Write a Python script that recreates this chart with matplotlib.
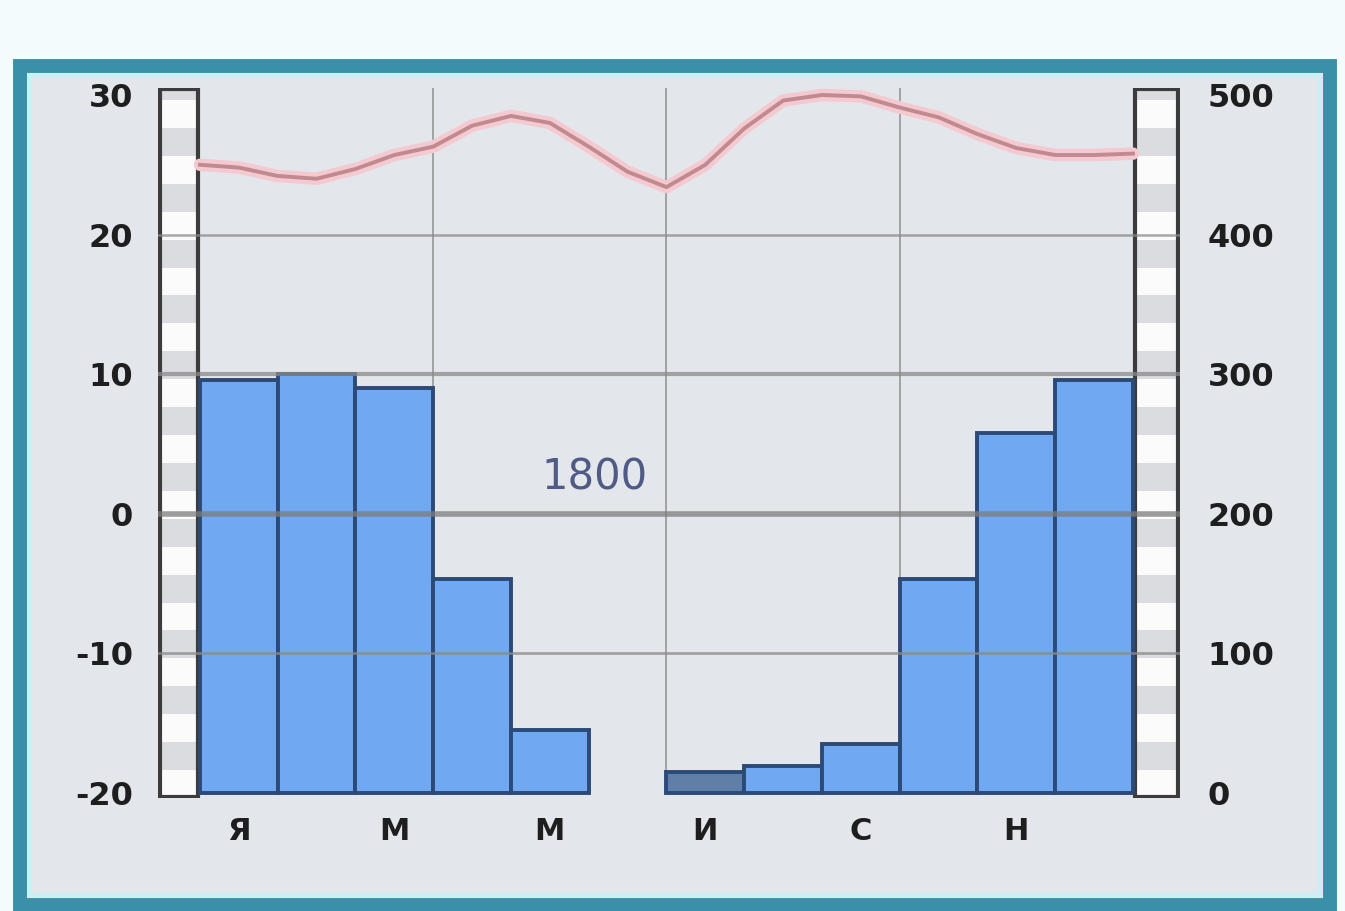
import numpy as np
import matplotlib.pyplot as plt
from matplotlib.patches import Rectangle

# precipitation per month, mm (right axis)
precip = [296, 300, 290, 153, 45, 0, 15, 19, 35, 153, 258, 296]
# temperature read every half month from start of Jan to end of Dec, deg C (left axis)
temp = [25.0, 24.8, 24.2, 24.0, 24.7, 25.7, 26.3, 27.8, 28.5, 28.0, 26.3, 24.5,
        23.4, 25.0, 27.6, 29.6, 30.0, 29.9, 29.1, 28.4, 27.2, 26.2, 25.7, 25.7, 25.8]
month_labels = ['Я', 'М', 'М', 'И', 'С', 'Н']
temp_ticks = [-20, -10, 0, 10, 20, 30]
precip_ticks = [0, 100, 200, 300, 400, 500]
total = '1800'

W, H = 1345, 911
fig = plt.figure(figsize=(W / 100, H / 100), dpi=100)
fig.patch.set_facecolor('#f3fbfc')

# teal frame with grey inside
fig.patches.append(Rectangle((20 / W, 6 / H), 1310 / W, 839 / H, transform=fig.transFigure,
                             facecolor='#e3e6ea', edgecolor='#3a90a9', linewidth=10, zorder=-2))
fig.patches.append(Rectangle((30 / W, 16 / H), 1290 / W, 819 / H, transform=fig.transFigure,
                             facecolor='none', edgecolor='#c8f0f6', linewidth=3, zorder=-1))

ax = fig.add_axes([158 / W, (H - 798) / H, 1022 / W, 710 / H])
ax.set_facecolor('none')
ax.set_xlim(-0.54, 12.605)
ax.set_ylim(-20.36, 30.5)
for s in ax.spines.values():
    s.set_visible(False)

ax2 = ax.twinx()
ax2.set_ylim((-20.36 + 20) * 10, (30.5 + 20) * 10)
for s in ax2.spines.values():
    s.set_visible(False)

# side scale strips
for x0, w in [(-0.54, 0.54), (12.0, 0.605)]:
    for i, y in enumerate(np.arange(-20.36, 30.5, 2.0)):
        ax.add_patch(Rectangle((x0, y), w, min(2.0, 30.5 - y),
                               facecolor='#fbfbfb' if i % 2 == 0 else '#dadcdf',
                               edgecolor='none', zorder=1))
    ax.add_patch(Rectangle((x0 + 0.02, -20.3), w - 0.04, 50.75, facecolor='none',
                           edgecolor='#3c3c3c', linewidth=3, zorder=3))

# vertical season lines
for xv in [3, 6, 9]:
    ax.plot([xv, xv], [-20, 30.5], color='#8f8f8f', linewidth=1.1, zorder=2)

# temperature curve
xt = np.arange(0, 12.5, 0.5)
ax.plot(xt, temp, color='#f4c9cf', linewidth=9, solid_capstyle='round',
        solid_joinstyle='round', zorder=4)
ax.plot(xt, temp, color='#c08a90', linewidth=2.8, solid_joinstyle='round', zorder=5)

# precipitation bars
colors = ['#70a8f2'] * 12
colors[6] = '#5f7fa8'
edge_w = [2.8 if p > 0 else 0 for p in precip]
ax2.bar(np.arange(12) + 0.5, precip, width=1.0, color=colors,
        edgecolor='#2b4a78', linewidth=edge_w, zorder=2)

# horizontal lines across the chart
for p, lw, c in [(100, 2.0, '#8a8a8a'), (200, 4.0, '#7d7d7d'),
                 (300, 3.0, '#8a8a8a'), (400, 1.8, '#8a8a8a')]:
    ax2.plot([-0.54, 12.605], [p, p], color=c, linewidth=lw, alpha=0.75, zorder=3)

ax.text(5.08, 2.6, total, ha='center', va='center', fontsize=30,
        color='#4f5b86', zorder=6)

ax.set_yticks(temp_ticks)
ax.set_yticklabels([str(t) for t in temp_ticks], fontsize=23, fontweight='bold', color='#1e1e1e')
ax.tick_params(axis='y', length=0, pad=18)
ax2.set_yticks(precip_ticks)
ax2.set_yticklabels([str(p) for p in precip_ticks], fontsize=23, fontweight='bold', color='#1e1e1e')
ax2.tick_params(axis='y', length=0, pad=20)
ax.set_xticks([0.5, 2.5, 4.5, 6.5, 8.5, 10.5])
ax.set_xticklabels(month_labels, fontsize=22, fontweight='bold', color='#1e1e1e')
ax.tick_params(axis='x', length=0, pad=14)

fig.savefig('out.png', dpi=100, facecolor=fig.get_facecolor())
